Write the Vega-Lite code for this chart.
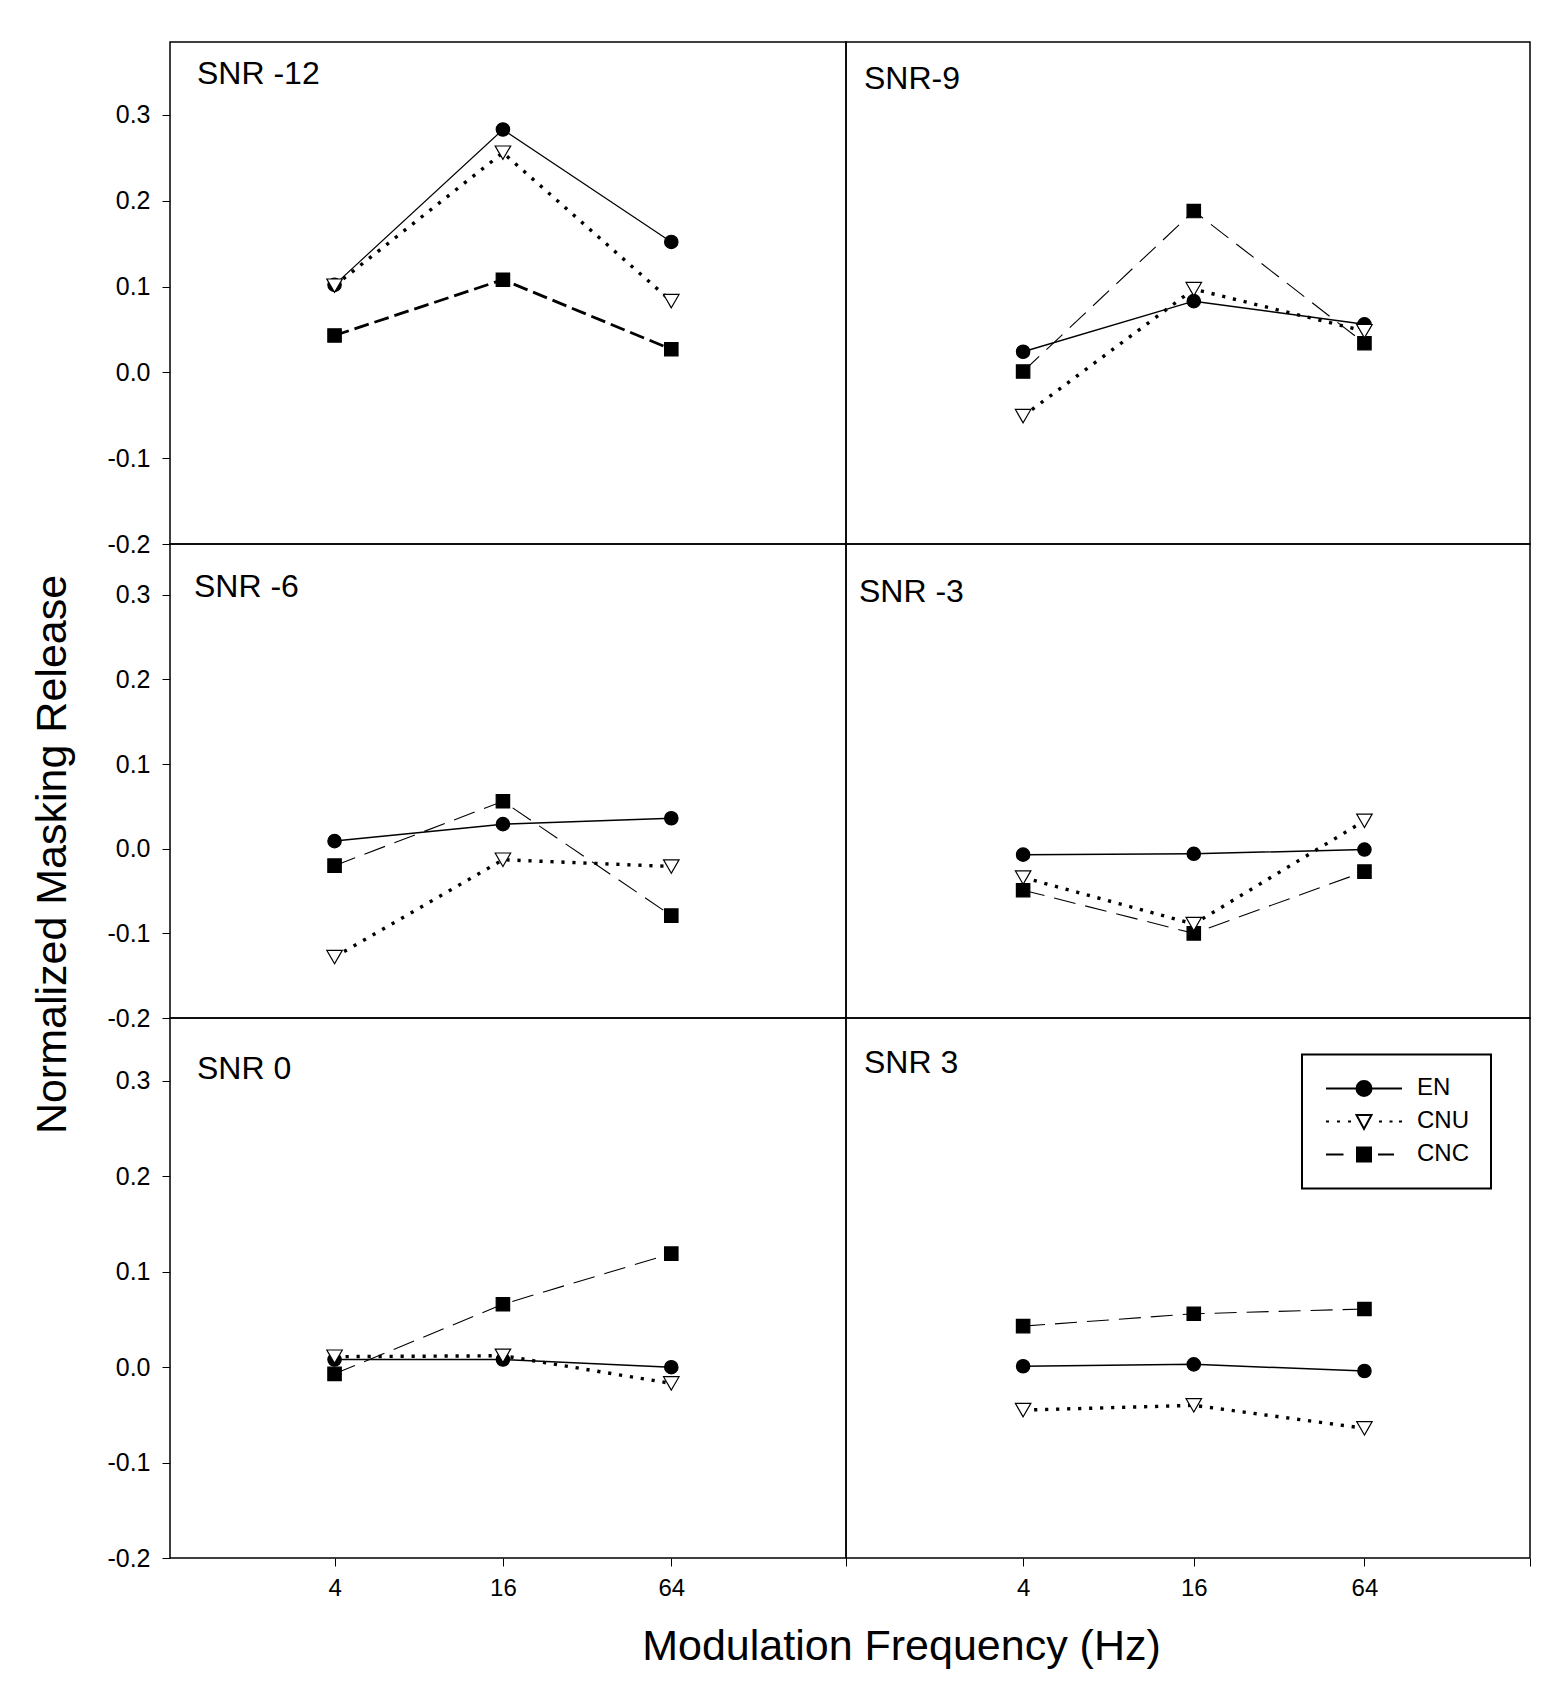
{
  "$schema": "https://vega.github.io/schema/vega-lite/v6.json",
  "description": "Normalized masking release by modulation frequency, six SNR panels",
  "padding": {"left": 30, "top": 41, "right": 0, "bottom": 0},
  "background": "white",
  "datasets": {
    "mr": [
      {"snr": "SNR -12", "series": "EN", "freq": 4, "value": 0.102},
      {"snr": "SNR -12", "series": "EN", "freq": 16, "value": 0.283},
      {"snr": "SNR -12", "series": "EN", "freq": 64, "value": 0.152},
      {"snr": "SNR -12", "series": "CNC", "freq": 4, "value": 0.043},
      {"snr": "SNR -12", "series": "CNC", "freq": 16, "value": 0.108},
      {"snr": "SNR -12", "series": "CNC", "freq": 64, "value": 0.027},
      {"snr": "SNR -12", "series": "CNU", "freq": 4, "value": 0.101},
      {"snr": "SNR -12", "series": "CNU", "freq": 16, "value": 0.256},
      {"snr": "SNR -12", "series": "CNU", "freq": 64, "value": 0.083},
      {"snr": "SNR-9", "series": "EN", "freq": 4, "value": 0.024},
      {"snr": "SNR-9", "series": "EN", "freq": 16, "value": 0.083},
      {"snr": "SNR-9", "series": "EN", "freq": 64, "value": 0.056},
      {"snr": "SNR-9", "series": "CNC", "freq": 4, "value": 0.001},
      {"snr": "SNR-9", "series": "CNC", "freq": 16, "value": 0.188},
      {"snr": "SNR-9", "series": "CNC", "freq": 64, "value": 0.034},
      {"snr": "SNR-9", "series": "CNU", "freq": 4, "value": -0.051},
      {"snr": "SNR-9", "series": "CNU", "freq": 16, "value": 0.097},
      {"snr": "SNR-9", "series": "CNU", "freq": 64, "value": 0.048},
      {"snr": "SNR -6", "series": "EN", "freq": 4, "value": 0.009},
      {"snr": "SNR -6", "series": "EN", "freq": 16, "value": 0.029},
      {"snr": "SNR -6", "series": "EN", "freq": 64, "value": 0.036},
      {"snr": "SNR -6", "series": "CNC", "freq": 4, "value": -0.020},
      {"snr": "SNR -6", "series": "CNC", "freq": 16, "value": 0.056},
      {"snr": "SNR -6", "series": "CNC", "freq": 64, "value": -0.079},
      {"snr": "SNR -6", "series": "CNU", "freq": 4, "value": -0.128},
      {"snr": "SNR -6", "series": "CNU", "freq": 16, "value": -0.013},
      {"snr": "SNR -6", "series": "CNU", "freq": 64, "value": -0.021},
      {"snr": "SNR -3", "series": "EN", "freq": 4, "value": -0.007},
      {"snr": "SNR -3", "series": "EN", "freq": 16, "value": -0.006},
      {"snr": "SNR -3", "series": "EN", "freq": 64, "value": -0.001},
      {"snr": "SNR -3", "series": "CNC", "freq": 4, "value": -0.049},
      {"snr": "SNR -3", "series": "CNC", "freq": 16, "value": -0.100},
      {"snr": "SNR -3", "series": "CNC", "freq": 64, "value": -0.027},
      {"snr": "SNR -3", "series": "CNU", "freq": 4, "value": -0.034},
      {"snr": "SNR -3", "series": "CNU", "freq": 16, "value": -0.089},
      {"snr": "SNR -3", "series": "CNU", "freq": 64, "value": 0.033},
      {"snr": "SNR 0", "series": "EN", "freq": 4, "value": 0.008},
      {"snr": "SNR 0", "series": "EN", "freq": 16, "value": 0.008},
      {"snr": "SNR 0", "series": "EN", "freq": 64, "value": 0.0},
      {"snr": "SNR 0", "series": "CNC", "freq": 4, "value": -0.007},
      {"snr": "SNR 0", "series": "CNC", "freq": 16, "value": 0.066},
      {"snr": "SNR 0", "series": "CNC", "freq": 64, "value": 0.119},
      {"snr": "SNR 0", "series": "CNU", "freq": 4, "value": 0.011},
      {"snr": "SNR 0", "series": "CNU", "freq": 16, "value": 0.012},
      {"snr": "SNR 0", "series": "CNU", "freq": 64, "value": -0.017},
      {"snr": "SNR 3", "series": "EN", "freq": 4, "value": 0.001},
      {"snr": "SNR 3", "series": "EN", "freq": 16, "value": 0.003},
      {"snr": "SNR 3", "series": "EN", "freq": 64, "value": -0.004},
      {"snr": "SNR 3", "series": "CNC", "freq": 4, "value": 0.043},
      {"snr": "SNR 3", "series": "CNC", "freq": 16, "value": 0.056},
      {"snr": "SNR 3", "series": "CNC", "freq": 64, "value": 0.061},
      {"snr": "SNR 3", "series": "CNU", "freq": 4, "value": -0.045},
      {"snr": "SNR 3", "series": "CNU", "freq": 16, "value": -0.040},
      {"snr": "SNR 3", "series": "CNU", "freq": 64, "value": -0.064}
    ]
  },
  "data": {"name": "mr"},
  "columns": 2,
  "spacing": 0,
  "bounds": "flush",
  "resolve": {
    "scale": {"shape": "independent", "fill": "independent", "size": "independent", "stroke": "independent"},
    "legend": {"shape": "independent", "fill": "independent", "size": "independent", "stroke": "independent"}
  },
  "concat": [
    {
      "width": 676,
      "height": 502,
      "title": {"text": "SNR -12", "dx": 27, "offset": -49},
      "transform": [{"filter": "datum.snr === 'SNR -12'"}],
      "encoding": {
        "x": {"field": "freq", "type": "quantitative", "scale": {"type": "log", "base": 2, "domain": [1.032, 269.7], "nice": false}, "axis": null},
        "y": {"field": "value", "type": "quantitative", "scale": {"domain": [-0.2, 0.385], "nice": false, "zero": false},
          "axis": {"values": [-0.2, -0.1, 0, 0.1, 0.2, 0.3], "labelExpr": "replace(format(datum.value, '.1f'), '\u2212', '-')", "title": null}}
      },
      "layer": [
        {"transform": [{"filter": "datum.series === 'EN'"}], "mark": {"type": "line", "color": "black", "strokeWidth": 1.2}},
        {"transform": [{"filter": "datum.series === 'CNU'"}], "mark": {"type": "line", "color": "black", "strokeWidth": 3.4, "strokeDash": [3.2, 7.8]}},
        {"transform": [{"filter": "datum.series === 'CNC'"}], "mark": {"type": "line", "color": "black", "strokeWidth": 2.8, "strokeDash": [15, 6]}},
        {
          "mark": {"type": "point", "filled": true, "stroke": "black", "strokeWidth": 1.2, "opacity": 1},
          "encoding": {
            "shape": {"field": "series", "type": "nominal", "scale": {"domain": ["EN", "CNU", "CNC"], "range": ["circle", "triangle-down", "square"]}, "legend": null},
            "fill": {"field": "series", "type": "nominal", "scale": {"range": ["black", "white", "black"]}, "legend": null},
            "size": {"field": "series", "type": "nominal", "scale": {"type": "ordinal", "range": [180, 240, 180]}, "legend": null}
          }
        }
      ]
    },
    {
      "width": 684,
      "height": 502,
      "title": {"text": "SNR-9", "dx": 18, "offset": -54},
      "transform": [{"filter": "datum.snr === 'SNR-9'"}],
      "encoding": {
        "x": {"field": "freq", "type": "quantitative", "scale": {"type": "log", "base": 2, "domain": [0.949, 245.6], "nice": false}, "axis": null},
        "y": {"field": "value", "type": "quantitative", "scale": {"domain": [-0.2, 0.385], "nice": false, "zero": false}, "axis": null}
      },
      "layer": [
        {"transform": [{"filter": "datum.series === 'EN'"}], "mark": {"type": "line", "color": "black", "strokeWidth": 1.5}},
        {"transform": [{"filter": "datum.series === 'CNU'"}], "mark": {"type": "line", "color": "black", "strokeWidth": 3.4, "strokeDash": [3.2, 7.8]}},
        {"transform": [{"filter": "datum.series === 'CNC'"}], "mark": {"type": "line", "color": "black", "strokeWidth": 1.1, "strokeDash": [22, 10]}},
        {
          "mark": {"type": "point", "filled": true, "stroke": "black", "strokeWidth": 1.2, "opacity": 1},
          "encoding": {
            "shape": {"field": "series", "type": "nominal", "scale": {"domain": ["EN", "CNU", "CNC"], "range": ["circle", "triangle-down", "square"]}, "legend": null},
            "fill": {"field": "series", "type": "nominal", "scale": {"range": ["black", "white", "black"]}, "legend": null},
            "size": {"field": "series", "type": "nominal", "scale": {"type": "ordinal", "range": [180, 240, 180]}, "legend": null}
          }
        }
      ]
    },
    {
      "width": 676,
      "height": 474,
      "title": {"text": "SNR -6", "dx": 24, "offset": -59.5},
      "transform": [{"filter": "datum.snr === 'SNR -6'"}],
      "encoding": {
        "x": {"field": "freq", "type": "quantitative", "scale": {"type": "log", "base": 2, "domain": [1.032, 269.7], "nice": false}, "axis": null},
        "y": {"field": "value", "type": "quantitative", "scale": {"domain": [-0.2, 0.36], "nice": false, "zero": false},
          "axis": {"values": [-0.2, -0.1, 0, 0.1, 0.2, 0.3], "labelExpr": "replace(format(datum.value, '.1f'), '\u2212', '-')",
            "title": "Normalized Masking Release", "titleX": -118, "titleY": 310, "titleAngle": 270, "titleAlign": "center", "titleBaseline": "middle"}}
      },
      "layer": [
        {"transform": [{"filter": "datum.series === 'EN'"}], "mark": {"type": "line", "color": "black", "strokeWidth": 1.5}},
        {"transform": [{"filter": "datum.series === 'CNU'"}], "mark": {"type": "line", "color": "black", "strokeWidth": 3.4, "strokeDash": [3.2, 7.8]}},
        {"transform": [{"filter": "datum.series === 'CNC'"}], "mark": {"type": "line", "color": "black", "strokeWidth": 1.1, "strokeDash": [22, 10]}},
        {
          "mark": {"type": "point", "filled": true, "stroke": "black", "strokeWidth": 1.2, "opacity": 1},
          "encoding": {
            "shape": {"field": "series", "type": "nominal", "scale": {"domain": ["EN", "CNU", "CNC"], "range": ["circle", "triangle-down", "square"]}, "legend": null},
            "fill": {"field": "series", "type": "nominal", "scale": {"range": ["black", "white", "black"]}, "legend": null},
            "size": {"field": "series", "type": "nominal", "scale": {"type": "ordinal", "range": [180, 240, 180]}, "legend": null}
          }
        }
      ]
    },
    {
      "width": 684,
      "height": 474,
      "title": {"text": "SNR -3", "dx": 13, "offset": -65.3},
      "transform": [{"filter": "datum.snr === 'SNR -3'"}],
      "encoding": {
        "x": {"field": "freq", "type": "quantitative", "scale": {"type": "log", "base": 2, "domain": [0.949, 245.6], "nice": false}, "axis": null},
        "y": {"field": "value", "type": "quantitative", "scale": {"domain": [-0.2, 0.36], "nice": false, "zero": false}, "axis": null}
      },
      "layer": [
        {"transform": [{"filter": "datum.series === 'EN'"}], "mark": {"type": "line", "color": "black", "strokeWidth": 1.5}},
        {"transform": [{"filter": "datum.series === 'CNU'"}], "mark": {"type": "line", "color": "black", "strokeWidth": 3.4, "strokeDash": [3.2, 7.8]}},
        {"transform": [{"filter": "datum.series === 'CNC'"}], "mark": {"type": "line", "color": "black", "strokeWidth": 1.1, "strokeDash": [22, 10]}},
        {
          "mark": {"type": "point", "filled": true, "stroke": "black", "strokeWidth": 1.2, "opacity": 1},
          "encoding": {
            "shape": {"field": "series", "type": "nominal", "scale": {"domain": ["EN", "CNU", "CNC"], "range": ["circle", "triangle-down", "square"]}, "legend": null},
            "fill": {"field": "series", "type": "nominal", "scale": {"range": ["black", "white", "black"]}, "legend": null},
            "size": {"field": "series", "type": "nominal", "scale": {"type": "ordinal", "range": [180, 240, 180]}, "legend": null}
          }
        }
      ]
    },
    {
      "width": 676,
      "height": 540,
      "title": {"text": "SNR 0", "dx": 27, "offset": -68},
      "transform": [{"filter": "datum.snr === 'SNR 0'"}],
      "encoding": {
        "x": {"field": "freq", "type": "quantitative", "scale": {"type": "log", "base": 2, "domain": [1.032, 269.7], "nice": false},
          "axis": {"values": [4, 16, 64, 269.7], "labelExpr": "datum.value > 100 ? '' : format(datum.value, 'd')",
            "title": "Modulation Frequency (Hz)", "titleX": 731, "titleY": 88, "titleAlign": "center", "titleBaseline": "middle"}},
        "y": {"field": "value", "type": "quantitative", "scale": {"domain": [-0.2, 0.366], "nice": false, "zero": false},
          "axis": {"values": [-0.2, -0.1, 0, 0.1, 0.2, 0.3], "labelExpr": "replace(format(datum.value, '.1f'), '\u2212', '-')", "title": null}}
      },
      "layer": [
        {"transform": [{"filter": "datum.series === 'EN'"}], "mark": {"type": "line", "color": "black", "strokeWidth": 1.5}},
        {"transform": [{"filter": "datum.series === 'CNU'"}], "mark": {"type": "line", "color": "black", "strokeWidth": 3.4, "strokeDash": [3.2, 7.8]}},
        {"transform": [{"filter": "datum.series === 'CNC'"}], "mark": {"type": "line", "color": "black", "strokeWidth": 1.1, "strokeDash": [22, 10]}},
        {
          "mark": {"type": "point", "filled": true, "stroke": "black", "strokeWidth": 1.2, "opacity": 1},
          "encoding": {
            "shape": {"field": "series", "type": "nominal", "scale": {"domain": ["EN", "CNU", "CNC"], "range": ["circle", "triangle-down", "square"]}, "legend": null},
            "fill": {"field": "series", "type": "nominal", "scale": {"range": ["black", "white", "black"]}, "legend": null},
            "size": {"field": "series", "type": "nominal", "scale": {"type": "ordinal", "range": [180, 240, 180]}, "legend": null}
          }
        }
      ]
    },
    {
      "width": 684,
      "height": 540,
      "title": {"text": "SNR 3", "dx": 18, "offset": -62.4},
      "transform": [{"filter": "datum.snr === 'SNR 3'"}],
      "encoding": {
        "x": {"field": "freq", "type": "quantitative", "scale": {"type": "log", "base": 2, "domain": [0.949, 245.6], "nice": false},
          "axis": {"values": [4, 16, 64, 245.6], "labelExpr": "datum.value > 100 ? '' : format(datum.value, 'd')", "title": null}},
        "y": {"field": "value", "type": "quantitative", "scale": {"domain": [-0.2, 0.366], "nice": false, "zero": false}, "axis": null}
      },
      "resolve": {"scale": {"shape": "independent", "fill": "independent", "stroke": "independent"}, "legend": {"shape": "independent", "fill": "independent", "stroke": "independent"}},
      "layer": [
        {"transform": [{"filter": "datum.series === 'EN'"}], "mark": {"type": "line", "color": "black", "strokeWidth": 1.5}},
        {"transform": [{"filter": "datum.series === 'CNU'"}], "mark": {"type": "line", "color": "black", "strokeWidth": 3.4, "strokeDash": [3.2, 7.8]}},
        {"transform": [{"filter": "datum.series === 'CNC'"}], "mark": {"type": "line", "color": "black", "strokeWidth": 1.1, "strokeDash": [22, 10]}},
        {
          "mark": {"type": "point", "filled": true, "stroke": "black", "strokeWidth": 1.2, "opacity": 1},
          "encoding": {
            "shape": {"field": "series", "type": "nominal", "scale": {"domain": ["EN", "CNU", "CNC"], "range": ["circle", "triangle-down", "square"]}, "legend": null},
            "fill": {"field": "series", "type": "nominal", "scale": {"range": ["black", "white", "black"]}, "legend": null},
            "size": {"field": "series", "type": "nominal", "scale": {"type": "ordinal", "range": [180, 240, 180]}, "legend": null}
          }
        },
        {
          "mark": {"type": "point", "filled": true, "strokeWidth": 2, "opacity": 0, "size": 400},
          "encoding": {
            "shape": {"field": "series", "type": "nominal",
              "scale": {"domain": ["EN", "CNU", "CNC"], "range": [
                "M-1,0H6.6M2.05,0A0.75,0.75 0 1,0 3.55,0A0.75,0.75 0 1,0 2.05,0Z",
                "M-1,0h0.3M0.1,0h0.3M1.2,0h0.3M4.3,0h0.3M5.35,0h0.3M6.3,0h0.3M2.05,-0.65H3.55L2.8,0.75Z",
                "M-1,0H0.75M4.2,0H5.8M2.1,-0.7h1.4v1.4h-1.4Z"
              ]},
              "legend": {
                "title": null, "orient": "none", "legendX": 456, "legendY": 36.4,
                "strokeColor": "black", "padding": 22, "symbolSize": 400, "symbolStrokeWidth": 2, "symbolStrokeColor": "black", "symbolOpacity": 1,
                "labelFont": "Liberation Sans", "labelFontSize": 24, "labelColor": "black", "labelOffset": 69, "rowPadding": 9
              }},
            "fill": {"field": "series", "type": "nominal", "scale": {"domain": ["EN", "CNU", "CNC"], "range": ["black", "white", "black"]}},
            "stroke": {"field": "series", "type": "nominal", "scale": {"domain": ["EN", "CNU", "CNC"], "range": ["black", "black", "black"]}}
          }
        }
      ]
    }
  ],
  "config": {
    "font": "Liberation Sans",
    "view": {"stroke": "black", "strokeWidth": 1.5},
    "title": {"anchor": "start", "frame": "group", "font": "Liberation Sans", "fontSize": 32, "fontWeight": "normal", "color": "black", "baseline": "middle"},
    "legend": {"strokeWidth": 2},
    "axis": {
      "domain": false, "grid": false, "ticks": true, "tickColor": "black", "tickSize": 8, "tickWidth": 1,
      "labelFont": "Liberation Sans", "labelColor": "black", "labelFlush": false, "labelOverlap": false,
      "titleFont": "Liberation Sans", "titleFontWeight": "normal", "titleColor": "black", "titleFontSize": 43
    },
    "axisX": {"labelFontSize": 24, "labelPadding": 10},
    "axisY": {"labelFontSize": 25, "labelPadding": 12}
  }
}
